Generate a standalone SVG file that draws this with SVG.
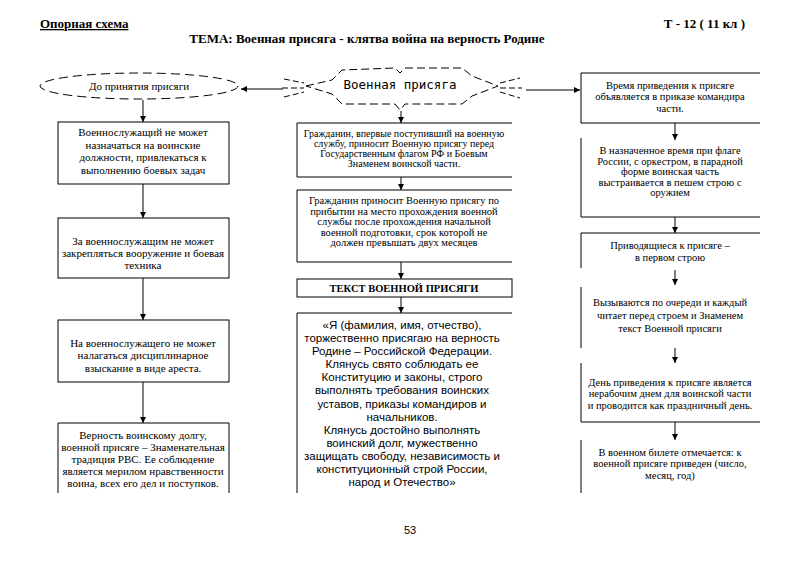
<svg xmlns="http://www.w3.org/2000/svg" width="800" height="565" viewBox="0 0 800 565">
<style>
.ln{stroke:#000;stroke-width:1;fill:none}
.ser{font-family:"Liberation Serif","Times New Roman",serif;fill:#000;text-anchor:middle}
.l{font-size:11px}
.m{font-size:10.5px}
.m1{font-size:10px}
.r{font-size:10.5px}
.oath{font-family:"Liberation Sans",Arial,sans-serif;font-size:11.5px;fill:#000;text-anchor:middle}
.hd{font-family:"Liberation Serif","Times New Roman",serif;font-weight:bold;font-size:13px;fill:#000}
</style>
<defs>
<marker id="ah" viewBox="0 0 10 10" refX="10" refY="5" markerWidth="6" markerHeight="6" markerUnits="userSpaceOnUse" orient="auto">
<path d="M0,0 L10,5 L0,10 Z" fill="#000"/>
</marker>
</defs>
<rect width="800" height="565" fill="#fff"/>
<g id="header">
<text class="hd" x="40" y="28" text-decoration="underline">Опорная схема</text>
<text class="hd" x="745" y="28" text-anchor="end">Т - 12 ( 11 кл )</text>
<text class="hd" x="367" y="43" text-anchor="middle">ТЕМА: Военная присяга - клятва война на верность Родине</text>
</g>
<g id="connectors" class="ln">
<line x1="283" y1="89" x2="241" y2="89" marker-end="url(#ah)"/>
<line x1="526" y1="90" x2="580" y2="90" marker-end="url(#ah)"/>
<line x1="143" y1="100" x2="143" y2="122" marker-end="url(#ah)"/>
<line x1="143" y1="184" x2="143" y2="218" marker-end="url(#ah)"/>
<line x1="143" y1="278" x2="143" y2="320" marker-end="url(#ah)"/>
<line x1="143" y1="382" x2="143" y2="423" marker-end="url(#ah)"/>
<line x1="401" y1="111" x2="401" y2="123" marker-end="url(#ah)"/>
<line x1="401" y1="177" x2="401" y2="190" marker-end="url(#ah)"/>
<line x1="401" y1="262" x2="401" y2="279" marker-end="url(#ah)"/>
<line x1="401" y1="297" x2="401" y2="313" marker-end="url(#ah)"/>
<line x1="675" y1="123" x2="675" y2="140" marker-end="url(#ah)"/>
<line x1="675" y1="217" x2="675" y2="233" marker-end="url(#ah)"/>
<line x1="675" y1="270" x2="675" y2="285" marker-end="url(#ah)"/>
<line x1="675" y1="348" x2="675" y2="363" marker-end="url(#ah)"/>
<line x1="675" y1="422" x2="675" y2="440" marker-end="url(#ah)"/>
</g>
<g id="before-oath">
<ellipse cx="139" cy="86" rx="99" ry="13" class="ln" stroke-dasharray="9,5"/>
<text class="ser l" x="139" y="90">До принятия присяги</text>
</g>
<g id="oath-title">
<path class="ln" stroke-dasharray="8,4" d="M306,86 L332,80 L342,70 L395,68 L400,73 L405,68 L462,68 L472,76 L498,86 L472,96 L462,104 L405,104 L400,110 L395,104 L342,104 L332,94 Z"/>
<path class="ln" stroke-dasharray="6,3" d="M284,79 L304,83 M282,88 L304,88 M284,97 L304,92 M500,83 L520,78 M500,88 L522,88 M500,92 L520,98"/>
<text x="400" y="89" font-family="'DejaVu Sans Mono','Liberation Mono',monospace" font-size="12.5px" text-anchor="middle" fill="#000">Военная присяга</text>
</g>
<g id="L1">
<rect class="ln" x="58" y="122" width="171" height="62"/>
<text class="ser l" x="143" y="136">Военнослужащий не может</text>
<text class="ser l" x="143" y="149">назначаться на воинские</text>
<text class="ser l" x="143" y="161">должности, привлекаться к</text>
<text class="ser l" x="143" y="174">выполнению боевых задач</text>
</g>
<g id="L2">
<rect class="ln" x="58" y="218" width="171" height="60"/>
<text class="ser l" x="143" y="245">За военнослужащим не может</text>
<text class="ser l" x="143" y="257">закрепляться вооружение и боевая</text>
<text class="ser l" x="143" y="269">техника</text>
</g>
<g id="L3">
<rect class="ln" x="58" y="320" width="171" height="62"/>
<text class="ser l" x="143" y="347">На военнослужащего не может</text>
<text class="ser l" x="143" y="359">налагаться дисциплинарное</text>
<text class="ser l" x="143" y="372">взыскание в виде ареста.</text>
</g>
<g id="L4">
<path class="ln" d="M58,493 V423 H229 V493"/>
<text class="ser l" x="143" y="439">Верность воинскому долгу,</text>
<text class="ser l" x="143" y="451">военной присяге – Знаменательная</text>
<text class="ser l" x="143" y="463">традиция РВС. Ее соблюдение</text>
<text class="ser l" x="143" y="475">является мерилом нравственности</text>
<text class="ser l" x="143" y="487">воина, всех его дел и поступков.</text>
</g>
<g id="M1">
<path class="ln" d="M512,123 H297 V177 H512"/>
<text class="ser m1" x="404" y="137">Гражданин, впервые поступивший на военную</text>
<text class="ser m1" x="404" y="147">службу, приносит Военную присягу перед</text>
<text class="ser m1" x="404" y="157">Государственным флагом РФ и Боевым</text>
<text class="ser m1" x="404" y="167">Знаменем воинской части.</text>
</g>
<g id="M2">
<path class="ln" d="M512,190 H297 V262 H512"/>
<text class="ser m" x="404" y="204">Гражданин приносит Военную присягу по</text>
<text class="ser m" x="404" y="214.5">прибытии на место прохождения военной</text>
<text class="ser m" x="404" y="225">службы после прохождения начальной</text>
<text class="ser m" x="404" y="235.5">военной подготовки, срок которой не</text>
<text class="ser m" x="404" y="246">должен превышать двух месяцев</text>
</g>
<g id="M3">
<rect class="ln" x="297" y="279" width="215" height="18"/>
<text class="ser" x="404" y="292" font-size="10.5px" font-weight="bold">ТЕКСТ ВОЕННОЙ ПРИСЯГИ</text>
</g>
<g id="M4">
<path class="ln" d="M512,313 H297 V493"/>
<text class="oath" x="402" y="329">«Я (фамилия, имя, отчество),</text>
<text class="oath" x="402" y="342">торжественно присягаю на верность</text>
<text class="oath" x="402" y="355">Родине – Российской Федерации.</text>
<text class="oath" x="402" y="368">Клянусь свято соблюдать ее</text>
<text class="oath" x="402" y="381">Конституцию и законы, строго</text>
<text class="oath" x="402" y="394">выполнять требования воинских</text>
<text class="oath" x="402" y="408">уставов, приказы командиров и</text>
<text class="oath" x="402" y="421">начальников.</text>
<text class="oath" x="402" y="434">Клянусь достойно выполнять</text>
<text class="oath" x="402" y="447">воинский долг, мужественно</text>
<text class="oath" x="402" y="460">защищать свободу, независимость и</text>
<text class="oath" x="402" y="473">конституционный строй России,</text>
<text class="oath" x="402" y="486">народ и Отечество»</text>
</g>
<g id="R1">
<path class="ln" d="M760,73 H581 V123 H760"/>
<text class="ser r" x="670" y="89">Время приведения к присяге</text>
<text class="ser r" x="670" y="100">объявляется в приказе командира</text>
<text class="ser r" x="670" y="112">части.</text>
</g>
<g id="R2">
<path class="ln" d="M581,138 V217 H760"/>
<text class="ser r" x="670" y="154">В назначенное время при флаге</text>
<text class="ser r" x="670" y="164.5">России, с оркестром, в парадной</text>
<text class="ser r" x="670" y="175">форме воинская часть</text>
<text class="ser r" x="670" y="185.5">выстраивается в пешем строю с</text>
<text class="ser r" x="670" y="196">оружием</text>
</g>
<g id="R3">
<path class="ln" d="M760,233 H581 V268"/>
<text class="ser r" x="670" y="249">Приводящиеся к присяге –</text>
<text class="ser r" x="670" y="261">в первом строю</text>
</g>
<g id="R4">
<path class="ln" d="M581,287 V348"/>
<text class="ser r" x="670" y="306">Вызываются по очереди и каждый</text>
<text class="ser r" x="670" y="319">читает перед строем и Знаменем</text>
<text class="ser r" x="670" y="332">текст Военной присяги</text>
</g>
<g id="R5">
<path class="ln" d="M581,363 V422 H760"/>
<text class="ser r" x="670" y="386">День приведения к присяге является</text>
<text class="ser r" x="670" y="397">нерабочим днем для воинской части</text>
<text class="ser r" x="670" y="409">и проводится как праздничный день.</text>
</g>
<g id="R6">
<path class="ln" d="M581,440 V493"/>
<text class="ser r" x="670" y="456">В военном билете отмечается: к</text>
<text class="ser r" x="670" y="467">военной присяге приведен (число,</text>
<text class="ser r" x="670" y="479">месяц, год)</text>
</g>
<g id="page">
<text x="410" y="534" font-family="'Liberation Sans',Arial,sans-serif" font-size="11px" text-anchor="middle" fill="#000">53</text>
</g>
</svg>
